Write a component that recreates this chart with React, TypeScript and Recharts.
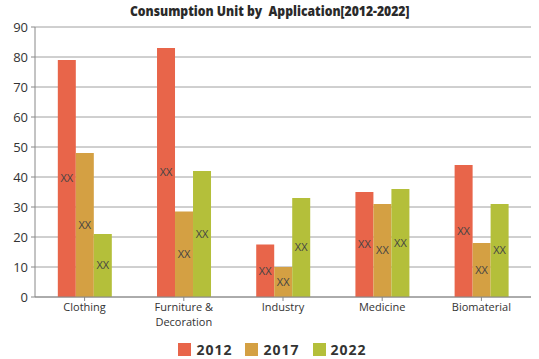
import React from 'react';
import { BarChart, Bar, XAxis, YAxis, CartesianGrid, Legend, LabelList, Text } from 'recharts';

const categories = ['Clothing', 'Furniture & Decoration', 'Industry', 'Medicine', 'Biomaterial'];
const values2012 = [79, 83, 17.5, 35, 44];
const values2017 = [48, 28.5, 10, 31, 18];
const values2022 = [21, 42, 33, 36, 31];
const yTicks = [0, 10, 20, 30, 40, 50, 60, 70, 80, 90];
const seriesNames = ['2012', '2017', '2022'];
const colors = ['#E8654A', '#D4A043', '#B4BF3A'];

const data = categories.map((c, i) => ({
  name: c,
  '2012': values2012[i],
  '2017': values2017[i],
  '2022': values2022[i],
}));

const XTick = (props: any) => {
  const { x, y, payload } = props;
  return (
    <Text
      x={x}
      y={y}
      width={90}
      lineHeight="1.35em"
      textAnchor="middle"
      verticalAnchor="start"
      fontSize={11}
      fontFamily="'Open Sans', sans-serif"
      fill="#333"
    >
      {payload.value}
    </Text>
  );
};

const LegendContent = () => (
  <div style={{ display: 'flex', justifyContent: 'center', alignItems: 'center', height: 19, paddingLeft: 14 }}>
    {seriesNames.map((s, i) => (
      <div key={s} style={{ display: 'flex', alignItems: 'center', marginRight: i < 2 ? 13 : 0 }}>
        <div style={{ width: 13, height: 13, background: colors[i], marginRight: 5 }} />
        <span style={{ fontFamily: "'Open Sans', sans-serif", fontWeight: 700, fontSize: 14, letterSpacing: 1, color: '#333' }}>{s}</span>
      </div>
    ))}
  </div>
);

export default function App() {
  return (
    <div style={{ position: 'absolute', left: 0, top: 0, width: 539, height: 359, background: '#fff' }}>
      <div
        style={{
          position: 'absolute',
          left: 0,
          top: 3,
          width: 539,
          textAlign: 'center',
          lineHeight: '16px',
        }}
      >
        <span
          style={{
            display: 'inline-block',
            transform: 'scaleX(0.87)',
            fontFamily: "'Open Sans', sans-serif",
            fontWeight: 800,
            fontSize: 14,
            color: '#2a2a2a',
            whiteSpace: 'pre',
          }}
        >
          {'Consumption Unit by  Application[2012-2022]'}
        </span>
      </div>
      <BarChart
        width={539}
        height={359}
        data={data}
        margin={{ top: 27, right: 8, left: 0, bottom: 0 }}
        barCategoryGap="23%"
        barGap={0}
      >
        <CartesianGrid vertical={false} stroke="#a0a0a0" strokeWidth={1} />
        <XAxis
          dataKey="name"
          height={43}
          tick={<XTick />}
          tickLine={{ stroke: '#888' }}
          tickSize={4}
          axisLine={{ stroke: '#888' }}
          interval={0}
        />
        <YAxis
          width={35}
          domain={[0, 90]}
          ticks={yTicks}
          interval={0}
          tick={{ fontSize: 13, fill: '#333', fontFamily: "'Open Sans', sans-serif" }}
          tickLine={{ stroke: '#888' }}
          tickSize={4}
          tickMargin={3}
          axisLine={{ stroke: '#888' }}
        />
        <Legend verticalAlign="bottom" content={<LegendContent />} wrapperStyle={{ bottom: 0 }} />
        {seriesNames.map((s, i) => (
          <Bar key={s} dataKey={s} fill={colors[i]} isAnimationActive={false}>
            <LabelList
              dataKey={s}
              position="center"
              formatter={() => 'XX'}
              fill="#444"
              fontSize={11}
              fontFamily="'Open Sans', sans-serif"
            />
          </Bar>
        ))}
      </BarChart>
    </div>
  );
}
